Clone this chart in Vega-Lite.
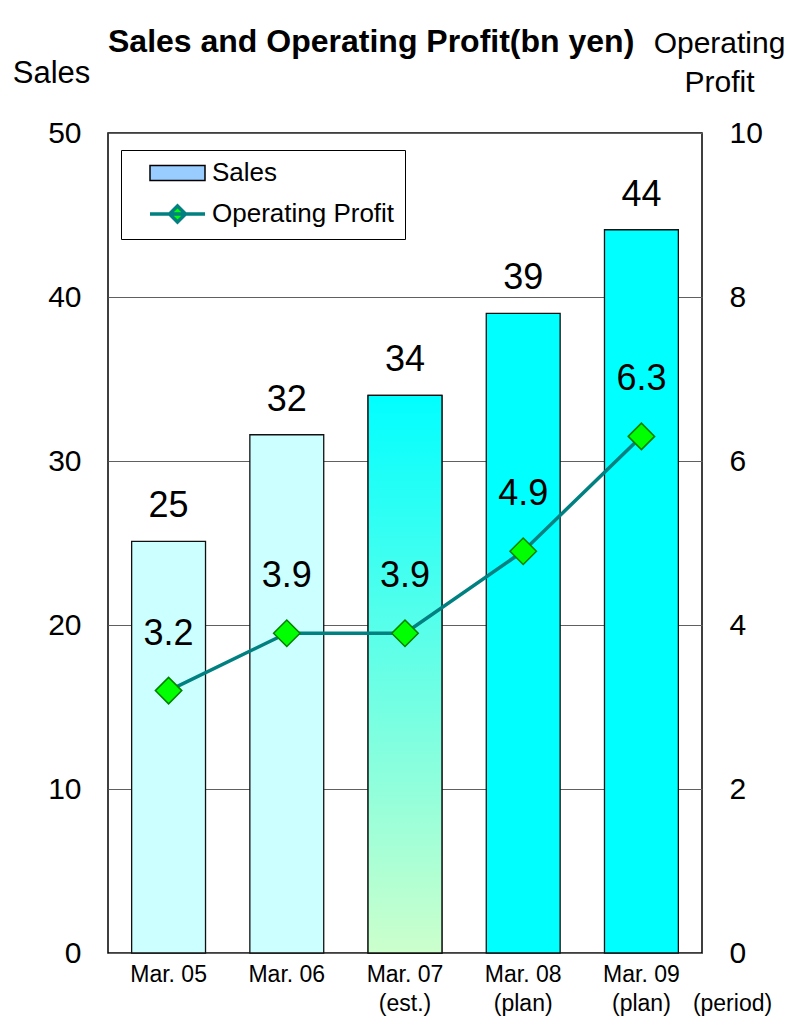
{
  "$schema": "https://vega.github.io/schema/vega-lite/v6.json",
  "width": 594,
  "height": 820,
  "autosize": {"type": "none"},
  "padding": {"left": 108, "top": 133, "right": 89, "bottom": 65},
  "background": "white",
  "config": {
    "font": "Liberation Sans",
    "view": {"stroke": "black", "strokeWidth": 1.5},
    "axis": {"labelFont": "Liberation Sans", "titleFont": "Liberation Sans", "labelColor": "black", "titleColor": "black", "titleFontWeight": "normal"}
  },
  "title": {"text": "Sales and Operating Profit(bn yen)", "fontSize": 32, "fontWeight": "bold", "font": "Liberation Sans", "anchor": "start", "frame": "group", "color": "black", "dy": 35},
  "data": {"values": [
    {"period": "Mar. 05", "status": "actual", "sales": 25.1, "profit": 3.2},
    {"period": "Mar. 06", "status": "actual", "sales": 31.6, "profit": 3.9},
    {"period": "Mar. 07 (est.)", "status": "est.", "sales": 34.0, "profit": 3.9},
    {"period": "Mar. 08 (plan)", "status": "plan", "sales": 39.0, "profit": 4.9},
    {"period": "Mar. 09 (plan)", "status": "plan", "sales": 44.1, "profit": 6.3}
  ]},
  "encoding": {
    "x": {
      "field": "period", "type": "nominal", "sort": null,
      "scale": {"paddingInner": 0.375, "paddingOuter": 0.2},
      "axis": {
        "title": "(period)", "titleFontSize": 23, "titleX": 624, "titleY": 57, "titleAlign": "center", "titleBaseline": "alphabetic",
        "labelAngle": 0, "labelFontSize": 23, "labelPadding": 10, "labelLineHeight": 29, "labelBaseline": "top",
        "ticks": false, "domain": false,
        "labelExpr": "indexof(datum.label, ' (') > 0 ? [substring(datum.label, 0, indexof(datum.label, ' (')), substring(datum.label, indexof(datum.label, ' (') + 1)] : datum.label"
      }
    }
  },
  "layer": [
    {
      "encoding": {
        "y": {
          "field": "sales", "type": "quantitative",
          "scale": {"domain": [0, 50], "nice": false},
          "axis": {
            "orient": "left", "values": [0, 10, 20, 30, 40, 50], "grid": true, "gridColor": "#606060", "gridWidth": 1,
            "domain": false, "ticks": false, "labelFontSize": 30, "labelPadding": 27,
            "title": "Sales", "titleAngle": 0, "titleFontSize": 31, "titleX": -57, "titleY": -51, "titleAlign": "center", "titleBaseline": "alphabetic"
          }
        }
      },
      "layer": [
        {
          "mark": {"type": "bar", "stroke": "#111111", "strokeWidth": 1.3},
          "encoding": {"fill": {"field": "status", "type": "nominal", "scale": {"domain": ["actual", "est.", "plan"], "range": ["#CCFFFF", "#CCFFCC", "#00FFFF"]}, "legend": null}}
        },
        {
          "transform": [{"filter": "datum.status === 'est.'"}],
          "mark": {"type": "bar", "stroke": "#111111", "strokeWidth": 1.3,
            "fill": {"gradient": "linear", "x1": 0, "y1": 0, "x2": 0, "y2": 1, "stops": [{"offset": 0, "color": "#00FFFF"}, {"offset": 0.3, "color": "#40FFF0"}, {"offset": 1, "color": "#CCFFCC"}]}}
        },
        {
          "mark": {"type": "text", "fontSize": 36, "dy": -24, "baseline": "alphabetic", "color": "black", "font": "Liberation Sans"},
          "encoding": {"text": {"field": "sales", "type": "quantitative", "format": ".0f"}}
        }
      ]
    },
    {
      "encoding": {
        "y": {
          "field": "profit", "type": "quantitative",
          "scale": {"domain": [0, 10], "nice": false},
          "axis": {
            "orient": "right", "values": [0, 2, 4, 6, 8, 10], "grid": false,
            "domain": false, "ticks": false, "labelFontSize": 30, "labelPadding": 27,
            "title": ["Operating", "Profit"], "titleAngle": 0, "titleFontSize": 30, "titleX": 17, "titleY": -81, "titleAlign": "center", "titleBaseline": "alphabetic", "titleLineHeight": 39
          }
        }
      },
      "layer": [
        {
          "mark": {"type": "line", "strokeWidth": 3.5},
          "encoding": {
            "color": {
              "datum": "Operating Profit", "type": "nominal",
              "scale": {"domain": ["Sales", "Operating Profit"], "range": ["#000000", "#008080"]},
              "legend": {
                "orient": "none", "legendX": 13, "legendY": 17, "title": null,
                "fillColor": "white", "strokeColor": "black", "padding": 10,
                "labelFontSize": 26, "labelFont": "Liberation Sans", "labelColor": "black", "labelLimit": 400,
                "symbolSize": 400, "labelOffset": 55, "rowPadding": 13,
                "encode": {"symbols": {"update": {
                  "shape": {"signal": "datum.value === 'Sales' ? 'M0.6,-0.75H6.1V0.75H0.6Z' : 'M0.6,0H6.1M3.35,-0.8L4.15,0L3.35,0.8L2.55,0Z'"},
                  "fill": {"signal": "datum.value === 'Sales' ? '#99CCFF' : '#00FF00'"},
                  "stroke": {"signal": "datum.value === 'Sales' ? '#000000' : '#008080'"},
                  "strokeWidth": {"signal": "datum.value === 'Sales' ? 1.5 : 3.5"},
                  "opacity": {"value": 1}, "fillOpacity": {"value": 1}, "strokeOpacity": {"value": 1}
                }}}
              }
            }
          }
        },
        {
          "mark": {"type": "point", "shape": "diamond", "filled": true, "size": 700, "fill": "#00FF00", "stroke": "#008000", "strokeWidth": 1.5, "opacity": 1}
        },
        {
          "mark": {"type": "text", "fontSize": 36, "dy": -46, "baseline": "alphabetic", "color": "black", "font": "Liberation Sans"},
          "encoding": {"text": {"field": "profit", "type": "quantitative", "format": ".1f"}}
        }
      ]
    }
  ],
  "resolve": {"scale": {"y": "independent"}}
}
